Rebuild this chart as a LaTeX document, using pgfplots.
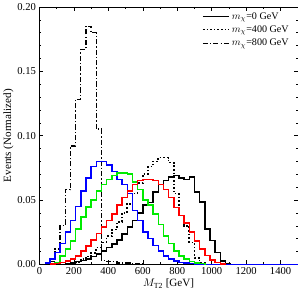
\documentclass[border=0pt]{standalone}
\usepackage{pgfplots}
\pgfplotsset{compat=1.18}
\usepackage{fontspec}
\setmainfont{Liberation Serif}
\definecolor{cblue}{RGB}{0,0,255}
\definecolor{cgreen}{RGB}{0,235,0}
\definecolor{cred}{RGB}{255,0,0}
\begin{document}
\begin{tikzpicture}
\begin{axis}[
  scale only axis,
  width=255bp, height=254bp,
  xmin=0, xmax=1500, ymin=0, ymax=0.20,
  xtick={0,200,...,1400},
  ytick={0,0.05,0.10,0.15,0.20},
  minor x tick num=1,
  minor y tick num=4,
  tick align=inside,
  major tick length=4bp, minor tick length=2bp,
  tick style={black, line width=0.4pt},
  xticklabel style={/pgf/number format/.cd, set thousands separator={}},
  yticklabel style={/pgf/number format/.cd, fixed, fixed zerofill, precision=2},
  /pgf/number format/assume math mode=true,
  ticklabel style={font=\fontsize{10.5}{12}\selectfont},
  label style={font=\fontsize{11}{13}\selectfont},
  xlabel={$M_{\mathrm{T2}}$ [GeV]},
  ylabel={Events (Normalized)},
  xlabel style={yshift=3bp},
  ylabel style={yshift=-3bp},
  legend style={draw=none, fill=none, at={(0.985,0.995)}, anchor=north east,
    font=\fontsize{10}{11}\selectfont, row sep=1bp},
  legend cell align=left,
  legend image code/.code={\draw[#1, line width=1.2pt] (0bp,0bp) -- (26bp,0bp);},
  const plot mark left,
  every axis plot/.append style={line width=1.5pt, mark=none},
]
% black solid, m=0
\addplot[black] coordinates {
(150,0.0005)(180,0.001)(210,0.002)(240,0.003)(270,0.004)(300,0.006)(330,0.008)(360,0.0105)(390,0.013)(420,0.0157)
(450,0.019)(480,0.0236)(510,0.029)(540,0.034)(570,0.040)(600,0.046)(630,0.048)(660,0.056)(690,0.062)(720,0.065)
(750,0.068)(780,0.069)(810,0.067)(840,0.066)(870,0.068)(900,0.056)(930,0.0486)(960,0.0276)(990,0.0184)(1020,0.0092)
(1050,0.0026)(1080,0.0005)(1110,0)};
\addlegendentry{$m_{\chi}$=0 GeV}
% black dotted, m=400
\addplot[black, dash pattern=on 1.6bp off 2bp, line width=1.6pt] coordinates {
(150,0.0005)(180,0.001)(210,0.002)(240,0.004)(270,0.006)(300,0.009)(330,0.013)(360,0.017)(390,0.022)(420,0.027)
(450,0.033)(480,0.040)(510,0.047)(540,0.055)(570,0.063)(600,0.070)(630,0.076)(660,0.080)(690,0.083)(720,0.083)
(750,0.079)(780,0.055)(810,0.038)(840,0.030)(870,0.017)(900,0.005)(930,0.001)(960,0)};
\addlegendentry{$m_{\chi}$=400 GeV}
% black dash-dot, m=800
\addplot[black, dash pattern=on 5bp off 2bp on 1.4bp off 2bp, line width=1.4pt] coordinates {
(60,0.002)(90,0.012)(120,0.030)(150,0.058)(180,0.092)(210,0.128)(240,0.167)(270,0.185)(300,0.180)(330,0.105)
(360,0.003)(390,0.002)(420,0.002)(450,0.001)(480,0.001)(510,0.001)(540,0.0005)(570,0.0005)(600,0)(1500,0)};
\addlegendentry{$m_{\chi}$=800 GeV}
% blue
\addplot[cblue, forget plot] coordinates {
(30,0.001)(60,0.004)(90,0.009)(120,0.016)(150,0.025)(180,0.034)(210,0.045)(240,0.057)(270,0.067)(300,0.076)
(330,0.080)(360,0.080)(390,0.077)(420,0.072)(450,0.066)(480,0.062)(510,0.055)(540,0.042)(570,0.034)(600,0.025)
(630,0.020)(660,0.0145)(690,0.0105)(720,0.0065)(750,0.004)(780,0.0025)(810,0.0015)(840,0.001)(870,0.0005)(900,0.0003)
(930,0)(1500,0)};
% green
\addplot[cgreen, forget plot] coordinates {
(60,0.0005)(90,0.0015)(120,0.0066)(150,0.0118)(180,0.018)(210,0.0276)(240,0.0367)(270,0.0446)(300,0.050)(330,0.057)
(360,0.062)(390,0.066)(420,0.069)(450,0.071)(480,0.071)(510,0.070)(540,0.064)(570,0.058)(600,0.050)(630,0.046)
(660,0.039)(690,0.031)(720,0.022)(750,0.016)(780,0.0105)(810,0.0066)(840,0.004)(870,0.0022)(900,0.001)(930,0.0005)
(960,0)};
% red
\addplot[cred, forget plot] coordinates {
(60,0.0003)(90,0.0008)(120,0.0015)(150,0.0025)(180,0.004)(210,0.0066)(240,0.0105)(270,0.0144)(300,0.019)(330,0.024)
(360,0.029)(390,0.034)(420,0.039)(450,0.046)(480,0.052)(510,0.057)(540,0.062)(570,0.065)(600,0.066)(630,0.066)
(660,0.065)(690,0.062)(720,0.058)(750,0.052)(780,0.044)(810,0.038)(840,0.032)(870,0.025)(900,0.018)(930,0.012)
(960,0.007)(990,0.0035)(1020,0.0013)(1050,0.0004)(1080,0)};
\end{axis}
\end{tikzpicture}
\end{document}
